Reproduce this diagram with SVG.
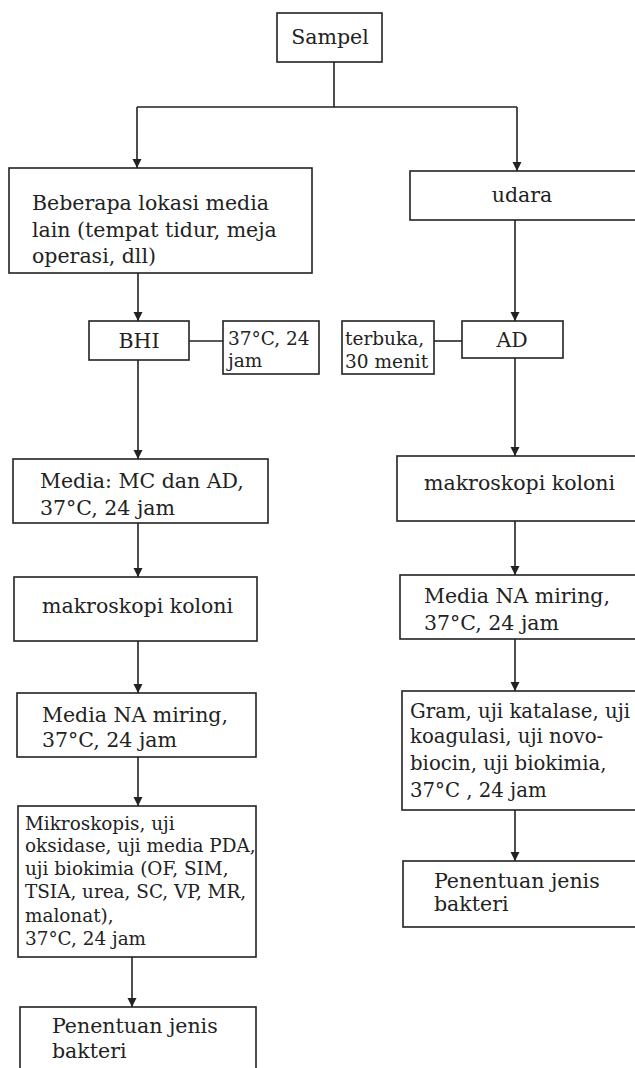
<svg xmlns="http://www.w3.org/2000/svg" width="635" height="1068" viewBox="0 0 635 1068">
<style>
.box{fill:#fff;stroke:#222;stroke-width:1.6}
.ln{fill:none;stroke:#222;stroke-width:1.6}
.arr{fill:none;stroke:#222;stroke-width:1.6;marker-end:url(#ah)}
text{font-family:"DejaVu Serif","Liberation Serif",serif;font-size:20.5px;fill:#222}
.c{text-anchor:middle}
.s{font-size:18.5px}
.m{font-size:18.4px}
.g{font-size:19.7px}
</style>
<defs>
<marker id="ah" markerUnits="userSpaceOnUse" markerWidth="10" markerHeight="11" refX="9" refY="5" orient="auto">
<path d="M0,0.5 L9,5 L0,9.5 z" fill="#222"/>
</marker>
</defs>
<rect width="635" height="1068" fill="#fff"/>
<g id="connectors">
<path class="ln" d="M334,62 V107 M137,107 H517"/>
<path class="arr" d="M137,107 V168"/>
<path class="arr" d="M517,107 V171"/>
<path class="arr" d="M138,273 V321"/>
<path class="arr" d="M515,220 V321"/>
<path class="ln" d="M189,341 H223"/>
<path class="ln" d="M434,341 H462"/>
<path class="arr" d="M138,360 V459"/>
<path class="arr" d="M138,523 V577"/>
<path class="arr" d="M138,641 V693"/>
<path class="arr" d="M138,757 V806"/>
<path class="arr" d="M132,957 V1007"/>
<path class="arr" d="M515,358 V456"/>
<path class="arr" d="M515,521 V575"/>
<path class="arr" d="M515,639 V691"/>
<path class="arr" d="M515,810 V861"/>
</g>
<g id="sampel">
<rect class="box" x="277" y="13" width="105" height="49"/>
<text class="c" x="330" y="44">Sampel</text>
</g>
<g id="lokasi">
<rect class="box" x="9" y="168" width="303" height="105"/>
<text x="32" y="210">Beberapa lokasi media</text>
<text x="32" y="237">lain (tempat tidur, meja</text>
<text x="32" y="263">operasi, dll)</text>
</g>
<g id="udara">
<rect class="box" x="410" y="171" width="230" height="49"/>
<text class="c" x="522" y="202">udara</text>
</g>
<g id="bhi">
<rect class="box" x="89" y="321" width="100" height="39"/>
<text class="c" x="139" y="348">BHI</text>
</g>
<g id="bhi-cond">
<rect class="box" x="223" y="321" width="96" height="53"/>
<text class="s" x="228" y="345">37°C, 24</text>
<text class="s" x="228" y="367">jam</text>
</g>
<g id="ad-cond">
<rect class="box" x="342" y="321" width="92" height="53"/>
<text class="s" x="345" y="345">terbuka,</text>
<text class="s" x="345" y="368">30 menit</text>
</g>
<g id="ad">
<rect class="box" x="462" y="321" width="101" height="37"/>
<text class="c" x="512" y="347">AD</text>
</g>
<g id="media-mc">
<rect class="box" x="13" y="459" width="255" height="64"/>
<text x="40" y="488">Media: MC dan AD,</text>
<text x="40" y="515">37°C, 24 jam</text>
</g>
<g id="makro-l">
<rect class="box" x="14" y="577" width="243" height="64"/>
<text x="42" y="613">makroskopi koloni</text>
</g>
<g id="na-l">
<rect class="box" x="17" y="693" width="239" height="64"/>
<text x="42" y="722">Media NA miring,</text>
<text x="42" y="747">37°C, 24 jam</text>
</g>
<g id="mikro">
<rect class="box" x="18" y="806" width="238" height="151"/>
<text class="m" x="25" y="830">Mikroskopis, uji</text>
<text class="m" x="25" y="852">oksidase, uji media PDA,</text>
<text class="m" x="25" y="875">uji biokimia (OF, SIM,</text>
<text class="m" x="25" y="898">TSIA, urea, SC, VP, MR,</text>
<text class="m" x="25" y="922">malonat),</text>
<text class="m" x="25" y="945">37°C, 24 jam</text>
</g>
<g id="hasil-l">
<rect class="box" x="20" y="1007" width="236" height="70"/>
<text x="52" y="1033">Penentuan jenis</text>
<text x="52" y="1058">bakteri</text>
</g>
<g id="makro-r">
<rect class="box" x="397" y="456" width="243" height="65"/>
<text x="424" y="490">makroskopi koloni</text>
</g>
<g id="na-r">
<rect class="box" x="400" y="575" width="240" height="64"/>
<text x="424" y="603">Media NA miring,</text>
<text x="424" y="630">37°C, 24 jam</text>
</g>
<g id="gram">
<rect class="box" x="402" y="691" width="238" height="119"/>
<text class="g" x="410" y="718">Gram, uji katalase, uji</text>
<text class="g" x="410" y="743">koagulasi, uji novo-</text>
<text class="g" x="410" y="770">biocin, uji biokimia,</text>
<text class="g" x="410" y="797">37°C , 24 jam</text>
</g>
<g id="hasil-r">
<rect class="box" x="403" y="861" width="237" height="66"/>
<text x="434" y="888">Penentuan jenis</text>
<text x="434" y="911">bakteri</text>
</g>
</svg>
